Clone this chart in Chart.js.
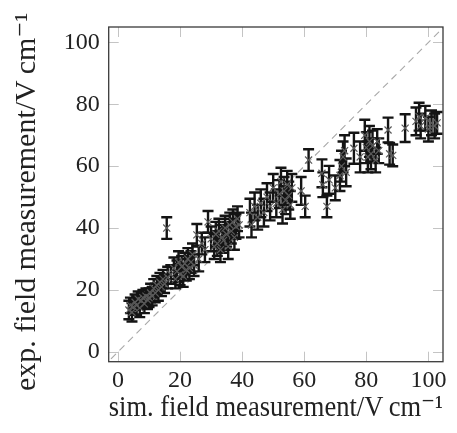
<!DOCTYPE html>
<html>
<head>
<meta charset="utf-8">
<script src="https://cdn.jsdelivr.net/npm/chart.js@4/dist/chart.umd.min.js"></script>
<style>
  html, body { margin: 0; padding: 0; background: #fff; }
  #wrap { width: 457px; height: 433px; }
</style>
</head>
<body>
<div id="wrap"><canvas id="c" width="457" height="433"></canvas></div>
<script>
// Simulated field measurement (x), V/cm
const simField = [
  3.5, 4, 4.5, 5, 5.5, 6, 6.5, 7, 7.5, 8, 8.5, 9, 9.5, 10, 10.5, 11, 11.5, 12, 12.5, 13,
  13.5, 14, 14.5, 15, 15.7, 16, 17, 18, 18.5, 19, 19.5, 20, 20.5, 21, 21.5, 22, 22.5, 23, 23.5, 24,
  24.5, 25.4, 26, 27, 28, 29, 30, 31, 31.5, 32, 32.5, 33, 33.5, 34, 34.5, 35, 35.5, 36, 36.5, 37,
  37.5, 38, 38.5, 39, 42.5, 43, 44, 45, 46, 47, 48, 49, 50, 51, 52, 52.5, 53, 53.5, 54, 54.5,
  55, 55.5, 56, 59, 60.3, 61.4, 65.7, 66, 67.3, 68, 70, 71.5, 72, 72.5, 73, 73.5, 76, 78, 79.5, 80,
  80.5, 81, 81.5, 82, 83, 83.5, 84, 87, 87.5, 88.5, 92.5, 96, 97, 97.5, 99, 100, 101, 102, 102.8
];
// Experimental field measurement (y), V/cm
const expField = [
  13.5, 15, 12.8, 14.5, 16, 15, 17, 14.2, 16.5, 17.5, 15.5, 18, 16.8, 17.5, 19, 18, 20.5, 19, 21.5, 20,
  22.5, 21, 23.5, 22, 40, 24, 25, 27, 23.5, 26, 29, 25, 27.5, 24.5, 28.5, 26.5, 30, 27, 29, 31.5,
  28, 37.8, 30, 35, 33, 42, 36.5, 34, 38, 35, 39, 33, 37, 36, 40, 38, 34, 41, 39, 42,
  37, 40.5, 43, 41, 45, 41, 47, 43.5, 48, 45, 50, 47, 53, 48, 51, 55, 46, 52, 49, 54,
  50.5, 47.5, 53, 52, 47, 62, 57.7, 54, 47, 55.6, 53, 57, 60, 63, 65, 58, 65.8, 63, 70, 66,
  63, 68, 64, 66.5, 62, 68, 65, 71.7, 64, 63.5, 72.3, 74.5, 76, 73, 75.5, 72, 74, 73, 74
];
// Measurement uncertainty (symmetric), V/cm
const expError = [
  3, 2.5, 3, 2.5, 2.5, 3, 2.5, 3, 2.5, 2.5, 3, 2.5, 3, 3, 3, 3, 3, 3, 3, 3.5,
  3, 3, 3, 3, 3.5, 3.5, 3, 3.5, 3, 3.5, 3.5, 3.5, 3.5, 3.5, 3.5, 3.5, 3.5, 3.5, 3.5, 3.5,
  3.5, 3.5, 4, 3.5, 4, 3.5, 4, 4, 4, 4, 4, 4, 4, 4, 4, 4, 4, 4, 4, 4,
  4, 4, 4, 4, 4.5, 4, 4.5, 4, 4.5, 4.5, 4.5, 4.5, 4.5, 4.5, 4.5, 4.5, 4.5, 4.5, 4.5, 4.5,
  4.5, 4.5, 4.5, 4.5, 3.5, 3.5, 4.5, 4, 3.5, 4.5, 4, 5, 5, 5, 5, 4.5, 5, 5, 5, 5,
  5, 5, 5, 5, 4, 4, 4, 4, 3.5, 3.5, 4.5, 4.5, 4.5, 4, 4, 4, 4, 4, 3.5
];
// Axis ticks
const tickValues = [0, 20, 40, 60, 80, 100];
// Identity reference line y = x
const identityLine = [-5, 110];

const markerPts = simField.map((x, i) => ({ x: x, y: expField[i] }));
const errPts = [];
simField.forEach((x, i) => {
  errPts.push({ x: x, y: expField[i] - expError[i] });
  errPts.push({ x: x, y: expField[i] + expError[i] });
  errPts.push({ x: x, y: null });
});
const diagPts = identityLine.map(v => ({ x: v, y: v }));

const SERIF = "'Liberation Serif', 'DejaVu Serif', serif";

const frameAndTicks = {
  id: 'frameAndTicks',
  afterDatasetsDraw(chart) {
    const { ctx, chartArea: a, scales } = chart;
    ctx.save();
    ctx.strokeStyle = '#c4c4c4';
    ctx.lineWidth = 1;
    const tl = 10;
    tickValues.forEach(v => {
      const px = Math.round(scales.x.getPixelForValue(v)) + 0.5;
      ctx.beginPath();
      ctx.moveTo(px, a.bottom); ctx.lineTo(px, a.bottom - tl);
      ctx.moveTo(px, a.top); ctx.lineTo(px, a.top + tl);
      ctx.stroke();
      const py = Math.round(scales.y.getPixelForValue(v)) + 0.5;
      ctx.beginPath();
      ctx.moveTo(a.left, py); ctx.lineTo(a.left + tl, py);
      ctx.moveTo(a.right, py); ctx.lineTo(a.right - tl, py);
      ctx.stroke();
    });
    ctx.strokeStyle = '#3a3a3a';
    ctx.lineWidth = 1.3;
    ctx.strokeRect(a.left, a.top, a.right - a.left, a.bottom - a.top);
    ctx.restore();
  }
};

new Chart(document.getElementById('c'), {
  type: 'scatter',
  data: {
    datasets: [
      {
        label: 'measurements',
        data: markerPts,
        pointStyle: 'crossRot',
        pointRadius: 5,
        pointBorderColor: '#5a5a5a',
        pointBorderWidth: 1.2,
        backgroundColor: '#5a5a5a',
        showLine: false
      },
      {
        label: 'error',
        type: 'line',
        data: errPts,
        spanGaps: false,
        borderColor: '#141414',
        borderWidth: 2.4,
        pointStyle: 'line',
        pointRadius: 5.5,
        pointBorderWidth: 2.4,
        pointBorderColor: '#141414',
        fill: false
      },
      {
        label: 'identity',
        type: 'line',
        data: diagPts,
        borderColor: '#a8a8a8',
        borderWidth: 1.1,
        borderDash: [7, 5],
        pointRadius: 0,
        fill: false
      }
    ]
  },
  options: {
    responsive: false,
    animation: false,
    events: [],
    layout: { padding: { top: 27, right: 14, left: 0, bottom: 0 } },
    plugins: { legend: { display: false }, tooltip: { enabled: false } },
    scales: {
      x: {
        type: 'linear',
        min: -3.0, max: 104.7,
        afterBuildTicks: s => { s.ticks = tickValues.map(v => ({ value: v })); },
        afterFit: s => { s.height = 71.3; },
        grid: { display: false, drawTicks: false },
        border: { display: false },
        ticks: { color: '#222', font: { family: SERIF, size: 24 }, padding: 5, maxRotation: 0 },
        title: { display: true, text: 'sim. field measurement/V\u2009cm\u207B\u00B9', color: '#222',
                 font: { family: SERIF, size: 30 }, padding: { top: 4, bottom: 7 } }
      },
      y: {
        type: 'linear',
        min: -3.2, max: 105.0,
        afterBuildTicks: s => { s.ticks = tickValues.map(v => ({ value: v })); },
        afterFit: s => { s.width = 108.7; },
        grid: { display: false, drawTicks: false },
        border: { display: false },
        ticks: { color: '#222', font: { family: SERIF, size: 24 }, padding: 9 },
        title: { display: true, text: 'exp. field measurement/V\u2009cm\u207B\u00B9\u2002', color: '#222',
                 font: { family: SERIF, size: 30 }, padding: { top: 9, bottom: 4 } }
      }
    }
  },
  plugins: [frameAndTicks]
});
</script>
</body>
</html>
